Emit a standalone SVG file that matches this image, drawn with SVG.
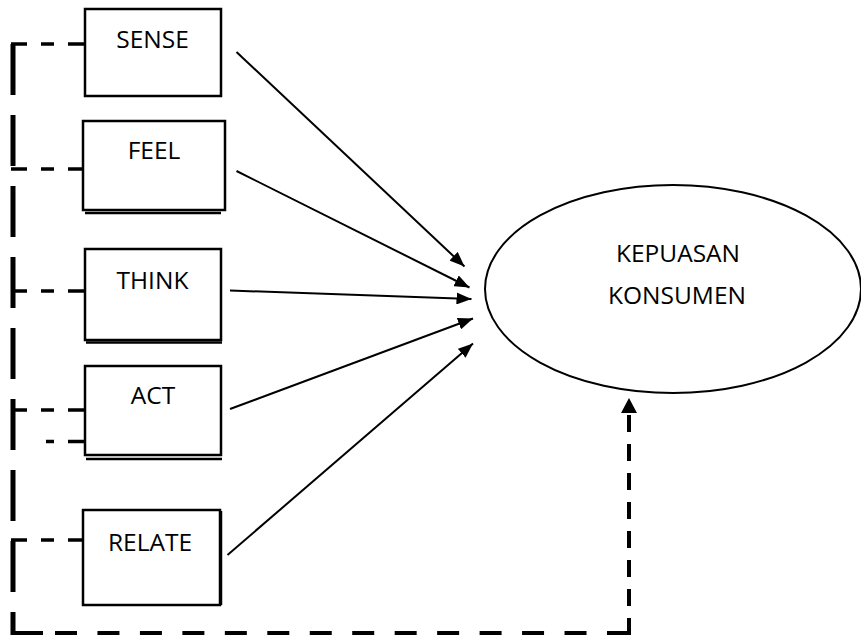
<svg xmlns="http://www.w3.org/2000/svg" width="861" height="637" viewBox="0 0 861 637">
  <style>
    .box { fill: #fff; stroke: #000; stroke-width: 2.5; }
    .shadow { fill: none; stroke: #000; stroke-width: 2.5; }
    .lbl { font-family: "Open Sans", "Liberation Sans", sans-serif; font-size: 24.5px; fill: #000; text-anchor: middle; }
    .arrow { stroke: #000; stroke-width: 2; fill: none; marker-end: url(#ah); }
    .vdash { stroke: #000; stroke-width: 5; fill: none; }
    .hdash { stroke: #000; stroke-width: 3.5; fill: none; stroke-dasharray: 17 14 13 14 25; }
    .bdash { stroke: #000; stroke-width: 4; fill: none; }
  </style>
  <defs>
    <marker id="ah" viewBox="0 0 15 12" refX="15" refY="6" markerWidth="15" markerHeight="12" markerUnits="userSpaceOnUse" orient="auto">
      <path d="M0,0 L15,6 L0,12 Z" fill="#000"/>
    </marker>
  </defs>
  <rect width="861" height="637" fill="#fff"/>

  <g id="connectors">
    <!-- solid arrows -->
    <line class="arrow" x1="236.5" y1="52" x2="464.5" y2="266.5"/>
    <line class="arrow" x1="236.5" y1="171" x2="469.5" y2="287.5"/>
    <line class="arrow" x1="230" y1="290.5" x2="471.5" y2="299"/>
    <line class="arrow" x1="230" y1="409" x2="473" y2="318.5"/>
    <line class="arrow" x1="227.5" y1="555" x2="473" y2="343.5"/>
    <!-- left dashed bracket -->
    <line class="vdash" x1="13" y1="44" x2="13" y2="635" stroke-dasharray="51 20"/>
    <path class="hdash" d="M85,44 H11"/>
    <path class="hdash" d="M85,169 H11"/>
    <path class="hdash" d="M85,291 H11"/>
    <path class="hdash" d="M85,410 H11"/>
    <path class="hdash" d="M85,441.5 H46" stroke-dasharray="11 12 16"/>
    <path class="hdash" d="M85,540 H11"/>
    <!-- bottom return line -->
    <path class="bdash" d="M11,633 H43"/>
    <path class="bdash" d="M55,633 H631" stroke-dasharray="22 20.46"/>
    <path class="bdash" d="M629,635 V413" stroke-dasharray="17 12"/>
    <polygon points="629,398 621,413 637,413" fill="#000"/>
  </g>

  <g id="node-sense">
    <rect class="box" x="85" y="9" width="136" height="87"/>
    <text class="lbl" x="152.5" y="47.5">SENSE</text>
  </g>
  <g id="node-feel">
    <line class="shadow" x1="85" y1="213" x2="221" y2="213"/>
    <rect class="box" x="83" y="121" width="142" height="89"/>
    <text class="lbl" x="154" y="159">FEEL</text>
  </g>
  <g id="node-think">
    <line class="shadow" x1="86" y1="342.5" x2="222" y2="342.5"/>
    <rect class="box" x="85" y="249" width="136" height="91"/>
    <text class="lbl" x="152.5" y="289">THINK</text>
  </g>
  <g id="node-act">
    <line class="shadow" x1="86" y1="459" x2="222" y2="459"/>
    <rect class="box" x="85" y="366" width="136" height="89"/>
    <text class="lbl" x="153" y="404">ACT</text>
  </g>
  <g id="node-relate">
    <line class="shadow" x1="221" y1="511" x2="221" y2="605"/>
    <rect class="box" x="83" y="510" width="137" height="95"/>
    <text class="lbl" x="150" y="551">RELATE</text>
  </g>
  <g id="node-kepuasan">
    <ellipse cx="673" cy="289" rx="188" ry="104" fill="#fff" stroke="#000" stroke-width="2"/>
    <text class="lbl" x="678" y="261.5">KEPUASAN</text>
    <text class="lbl" x="677" y="304">KONSUMEN</text>
  </g>
</svg>
